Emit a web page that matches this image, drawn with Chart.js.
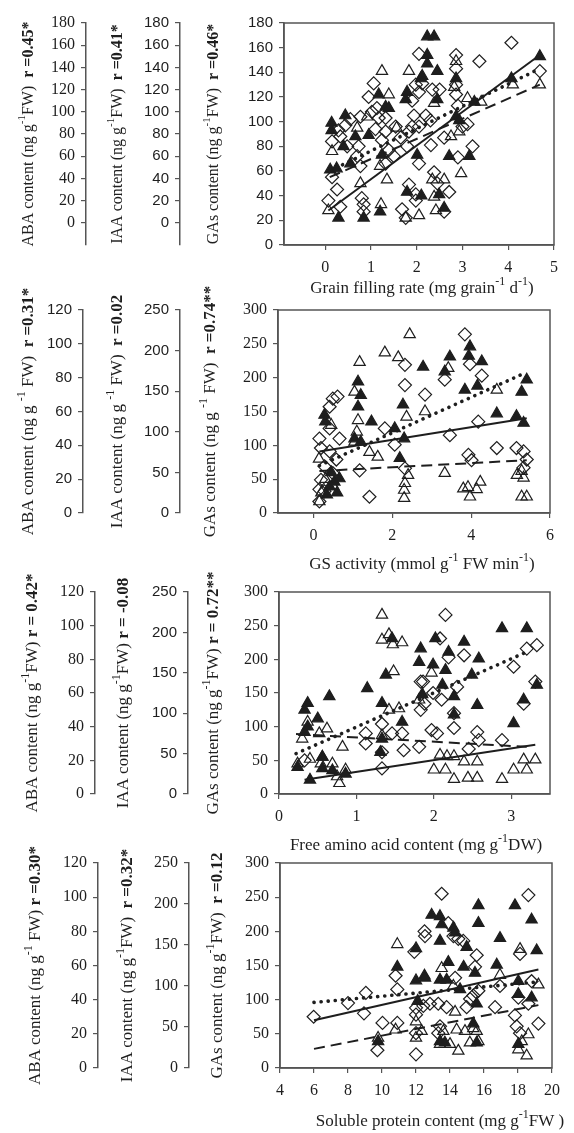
<!DOCTYPE html>
<html>
<head>
<meta charset="utf-8">
<script src="https://cdn.jsdelivr.net/npm/chart.js@4.4.0/dist/chart.umd.min.js"></script>
<style>
  html, body { margin: 0; padding: 0; background: #fff; }
  #fig { position: relative; width: 574px; height: 1133px; overflow: hidden; }
  #fig > div { position: absolute; left: 0; width: 574px; }
</style>
</head>
<body>
<div id="fig">
  <div style="top:0px;height:300px"><canvas id="c1"></canvas></div>
  <div style="top:270px;height:310px"><canvas id="c2"></canvas></div>
  <div style="top:560px;height:300px"><canvas id="c3"></canvas></div>
  <div style="top:830px;height:303px"><canvas id="c4"></canvas></div>
</div>
<script>
// Panel 1 - grain filling rate (all y values read in GAs axis units)
const grainFilled = [[0.29,22],[0.84,22],[1.2,27],[0.14,99],[0.14,93],[0.44,105],[0.4,80],[0.66,88],[0.95,89],[0.11,61],[0.25,62],[0.55,66],[1.17,122],[1.32,112],[1.39,111],[1.24,73],[1.79,124],[1.76,118],[2.09,135],[2.01,73],[1.79,43],[2.1,40],[2.23,169],[2.38,169],[2.23,154],[2.23,147],[2.45,141],[2.12,137],[2.45,118],[2.86,135],[2.86,104],[2.93,101],[2.71,72],[3.15,72],[2.6,30],[2.49,41],[3.26,116],[4.07,135],[4.69,153]];
const grainOpen = [[1.24,141],[1.83,141],[1.39,122],[0.15,76],[0.7,95],[0.07,28],[1.35,53],[1.2,64],[0.77,50],[1.22,33],[1.76,22],[2.05,24],[0.92,104],[1.56,95],[2.38,115],[3.11,119],[3.41,116],[2.75,88],[2.97,58],[2.34,53],[2.6,53],[2.38,39],[2.42,28],[2.86,149],[2.82,128],[4.69,130],[4.1,130],[2.93,92]];
const grainDiamond = [[0.07,36],[0.15,55],[0.26,45],[0.33,31],[0.15,84],[0.29,93],[0.44,97],[0.55,102],[0.33,88],[0.48,80],[0.77,104],[0.73,80],[0.7,72],[0.77,64],[0.8,38],[0.84,33],[0.84,27],[1.06,131],[0.95,120],[1.02,108],[1.13,111],[1.17,103],[1.1,94],[1.32,92],[1.24,85],[1.39,77],[1.5,72],[1.32,66],[1.32,103],[1.54,96],[1.65,87],[1.79,80],[1.83,92],[1.94,105],[1.9,96],[1.83,49],[1.98,41],[1.98,36],[1.68,29],[1.76,22],[2.05,155],[1.98,130],[1.9,117],[2.05,124],[2.12,131],[2.34,126],[2.5,126],[2.2,105],[2.3,101],[2.05,96],[2.31,81],[2.05,66],[2.38,59],[2.45,50],[2.71,43],[2.6,27],[2.86,154],[2.86,143],[2.86,130],[2.86,122],[2.9,113],[3.0,96],[3.11,98],[2.6,87],[3.22,80],[2.9,71],[3.37,149],[4.07,164],[4.69,141]];
const grainSolid = [[0.07,28],[4.69,154]];
const grainDashed = [[0.1,55],[4.69,130]];
const grainDotted = [[0.1,60],[4.69,143]];

// Panel 2 - GS activity
const gsFilled = [[1.13,194],[1.2,174],[1.13,157],[1.47,135],[1.04,110],[1.2,105],[2.27,160],[2.06,125],[2.3,110],[2.19,81],[2.78,216],[0.28,145],[0.3,135],[0.41,39],[0.53,46],[0.34,27],[0.66,51],[0.45,60],[0.6,30],[3.97,246],[3.94,232],[4.27,224],[3.46,231],[3.33,209],[3.84,182],[4.16,188],[5.41,197],[5.28,179],[4.65,147],[5.15,143],[5.33,133]];
const gsOpen = [[2.44,264],[1.17,223],[1.81,237],[2.15,230],[1.04,179],[1.13,137],[1.1,120],[1.04,105],[1.42,90],[1.63,83],[2.36,142],[2.4,56],[2.32,44],[2.3,34],[2.3,22],[0.15,17],[0.45,130],[0.14,80],[0.3,50],[0.5,40],[0.2,30],[3.42,214],[2.83,150],[4.65,182],[3.33,59],[3.8,36],[3.92,38],[3.97,24],[4.14,35],[4.23,46],[5.16,56],[5.28,62],[5.33,52],[5.28,24],[5.41,24]];
const gsDiamond = [[0.49,169],[0.61,172],[0.41,157],[0.15,110],[0.41,125],[0.66,110],[0.19,96],[0.41,91],[0.58,79],[0.28,69],[0.49,59],[0.19,49],[0.15,35],[0.28,32],[0.15,17],[1.17,63],[1.42,24],[2.32,219],[2.32,189],[1.81,125],[2.06,101],[2.32,66],[3.84,264],[3.97,220],[4.27,203],[3.33,197],[2.83,175],[4.18,135],[3.46,115],[3.93,86],[4.01,78],[4.65,96],[5.15,96],[5.33,91],[5.41,79],[5.33,67]];
const gsSolid = [[0.15,91],[5.41,140]];
const gsDashed = [[0.15,62],[5.41,78]];
const gsDotted = [[0.15,70],[5.33,206]];

// Panel 3 - free amino acid content
const aminoFilled = [[0.37,135],[0.33,125],[0.5,112],[0.65,145],[0.33,92],[0.37,100],[0.56,55],[0.24,40],[0.56,38],[0.69,35],[0.86,30],[0.4,21],[1.14,157],[1.38,177],[1.46,231],[1.33,135],[1.59,107],[1.33,82],[1.31,62],[1.83,216],[1.81,196],[2.02,231],[2.19,211],[2.39,226],[2.58,201],[2.88,246],[3.2,246],[1.99,192],[2.15,184],[2.49,177],[2.11,162],[2.26,145],[2.56,132],[1.85,148],[2.26,118],[3.03,105],[3.16,140],[3.33,162]];
const aminoOpen = [[1.33,266],[1.33,229],[1.42,237],[1.47,222],[1.59,225],[1.48,182],[1.42,125],[1.55,127],[1.81,140],[0.37,107],[0.3,82],[0.52,90],[0.62,97],[0.82,70],[0.24,45],[0.4,52],[0.54,45],[0.69,45],[0.86,36],[0.75,26],[0.78,16],[0.56,55],[1.33,87],[1.97,180],[2.08,58],[2.17,56],[2.26,56],[2.0,36],[2.15,36],[2.26,22],[2.39,48],[2.56,48],[2.44,24],[2.56,24],[2.88,22],[3.03,36],[3.16,51],[3.2,36],[3.31,51]];
const aminoDiamond = [[0.33,50],[1.12,90],[1.12,75],[1.33,104],[1.33,62],[1.33,38],[1.46,90],[1.59,90],[1.61,65],[1.81,70],[1.83,167],[1.83,125],[2.15,266],[2.08,231],[2.19,203],[2.39,206],[3.03,189],[3.2,216],[3.33,221],[3.31,167],[3.16,134],[2.3,159],[1.86,167],[1.99,150],[2.1,140],[1.88,134],[2.26,120],[2.26,98],[1.97,95],[2.04,90],[2.56,92],[2.58,80],[2.88,80],[2.45,67]];
const aminoSolid = [[0.33,21],[3.31,73]];
const aminoDashed = [[0.22,89],[3.2,70]];
const aminoDotted = [[0.22,60],[3.2,211]];

// Panel 4 - soluble protein content
const proteinFilled = [[10.9,148],[12,175],[12,128],[12.1,98],[9.77,39],[12.5,135],[12.92,224],[13.41,222],[13.51,210],[14.2,205],[14.3,198],[14.98,177],[13.41,186],[13.9,155],[13.41,129],[13.8,129],[14.8,148],[15.47,139],[14.59,115],[12.53,132],[15.67,238],[15.67,212],[15.57,94],[16.94,190],[16.75,151],[17.82,238],[18.8,217],[19.1,172],[18.02,127],[18.02,108],[18.8,103],[13.41,39],[13.7,37],[15.57,37],[18.02,35],[15.37,65]];
const proteinOpen = [[10.9,181],[10.8,56],[9.77,44],[12,68],[12,44],[18.12,174],[16.94,136],[13.51,146],[14.2,120],[19.2,122],[14.3,82],[12.33,54],[13.61,54],[14.39,56],[14.88,54],[15.57,54],[15.67,39],[13.41,35],[14.0,35],[14.49,25],[15.17,37],[18.02,27],[18.22,39],[18.61,49],[18.51,18],[15.37,58]];
const proteinDiamond = [[5.98,75],[8.0,95],[8.94,80],[9.05,110],[9.73,26],[10.03,66],[10.9,115],[10.9,66],[10.8,135],[11.9,170],[12,88],[12,51],[12,20],[12.5,200],[12,78],[13.51,255],[18.61,253],[13.9,212],[12.53,193],[14.2,193],[14.49,189],[14.78,186],[15.57,165],[15.47,148],[18.12,167],[14.3,132],[15.67,113],[15.37,106],[16.94,120],[18.8,127],[18.02,103],[12.43,91],[12.82,94],[13.31,94],[13.8,89],[14.98,89],[16.65,89],[17.82,77],[15.18,101],[13.41,61],[13.31,51],[17.92,61],[19.2,65],[18.61,94],[18.12,51]];
const proteinSolid = [[6,70],[19.2,144]];
const proteinDashed = [[6,28],[19.2,92]];
const proteinDotted = [[6,96],[19.2,126]];

// Tick labels
const ticks180 = [0,20,40,60,80,100,120,140,160,180];
const ticks120 = [0,20,40,60,80,100,120];
const ticks250 = [0,50,100,150,200,250];
const ticks300 = [0,50,100,150,200,250,300];
const grainTicks = [0,1,2,3,4,5];
const gsTicks = [0,2,4,6];
const aminoTicks = [0,1,2,3];
const proteinTicks = [4,6,8,10,12,14,16,18,20];

const SERIF = '"Liberation Serif", "Times New Roman", serif';
const SANS = '"Liberation Sans", Arial, sans-serif';
const INK = '#1e1e1e';
const AXIS = '#555';

// "^..^" = superscript, "~" = rest in bold
function rich(str) {
  const segs = [];
  const re = /\^([^^]*)\^|~(.*)$|([^^~]+)/g;
  let m;
  while ((m = re.exec(str))) {
    if (m[1] !== undefined) segs.push([m[1], 's']);
    else if (m[2] !== undefined) segs.push([m[2], 'b']);
    else segs.push([m[3], 'n']);
  }
  return segs;
}

function drawRich(ctx, str, cx, cy, size, rotated) {
  const segs = rich(str);
  const fonts = { n: size + 'px ' + SERIF, b: 'bold ' + size + 'px ' + SERIF, s: Math.round(size * 0.68) + 'px ' + SERIF };
  ctx.save();
  ctx.translate(cx, cy);
  if (rotated) ctx.rotate(-Math.PI / 2);
  ctx.fillStyle = INK;
  ctx.textBaseline = 'middle';
  ctx.textAlign = 'left';
  const widths = segs.map(s => { ctx.font = fonts[s[1]]; return ctx.measureText(s[0]).width; });
  let x = -widths.reduce((a, b) => a + b, 0) / 2;
  segs.forEach((s, i) => {
    ctx.font = fonts[s[1]];
    ctx.fillText(s[0], x, s[1] === 's' ? -size * 0.42 : 0);
    x += widths[i];
  });
  ctx.restore();
}

const pts = arr => arr.map(([x, y]) => ({ x, y }));

function buildPanel(p) {
  const yAxis = (rng, tks, font, weight, w) => ({
    type: 'linear', position: 'left', min: rng[0], max: rng[1], weight,
    afterBuildTicks: s => { s.ticks = tks.map(v => ({ value: v })); },
    afterFit: s => { s.width = w; },
    grid: { drawOnChartArea: false, tickLength: 5, color: AXIS, lineWidth: 1.2 },
    border: { color: AXIS, width: 1.5 },
    ticks: { font: { family: font, size: font === SERIF ? 16 : 15 }, color: INK, padding: 6 }
  });

  const decor = {
    id: 'decor',
    beforeDatasetsDraw(chart) {
      const { ctx, chartArea: a } = chart;
      ctx.save();
      ctx.strokeStyle = AXIS;
      ctx.lineWidth = 1.5;
      ctx.strokeRect(a.left, a.top, a.right - a.left, a.bottom - a.top);
      ctx.restore();
    },
    afterDraw(chart) {
      const { ctx, chartArea: a } = chart;
      const mid = (a.top + a.bottom) / 2;
      p.titles.forEach((t, i) => drawRich(ctx, t, p.titleX[i], mid, p.titleSize, true));
      drawRich(ctx, p.xTitle, p.xTitlePos[0], p.xTitlePos[1] - p.top, 17, false);
    }
  };

  const marker = (data, style, fill) => ({
    data: pts(data), pointStyle: style, pointRadius: 6.5,
    borderColor: INK, backgroundColor: fill, pointBorderWidth: 1.2, showLine: false, yAxisID: 'yG', clip: false
  });
  const trend = (data, dash, width, cap) => ({
    data: pts(data), showLine: true, pointRadius: 0, borderColor: INK, borderWidth: width,
    borderDash: dash, borderCapStyle: cap, yAxisID: 'yG', clip: false
  });

  new Chart(document.getElementById(p.id), {
    type: 'scatter',
    data: {
      datasets: [
        marker(p.open, 'triangle', 'rgba(255,255,255,0)'),
        marker(p.diamond, 'rectRot', 'rgba(255,255,255,0)'),
        marker(p.filled, 'triangle', INK),
        trend(p.solid, [], 2, 'butt'),
        trend(p.dashed, [11, 6], 2, 'butt'),
        trend(p.dotted, [0.1, 7], 3.6, 'round')
      ]
    },
    options: {
      responsive: true, maintainAspectRatio: false, animation: false, events: [],
      layout: { padding: { left: 0, top: p.areaTop - p.top, right: 574 - p.areaRight, bottom: p.padBottom } },
      plugins: { legend: { display: false }, tooltip: { enabled: false } },
      scales: {
        x: {
          type: 'linear', min: p.xRange[0], max: p.xRange[1],
          afterBuildTicks: s => { s.ticks = p.xTicks.map(v => ({ value: v })); },
          afterFit: s => { s.height = 30; },
          grid: { drawOnChartArea: false, tickLength: 5, color: AXIS, lineWidth: 1.2 },
          border: { color: AXIS, width: 1.5 },
          ticks: { font: { family: SERIF, size: 16 }, color: INK, padding: 8, maxRotation: 0 }
        },
        yG: yAxis(p.gas, p.gasTicks, p.fonts[2], 0, p.axisX[2] - p.axisX[1]),
        yI: yAxis(p.iaa, p.iaaTicks, p.fonts[1], 1, p.axisX[1] - p.axisX[0]),
        yA: yAxis(p.aba, p.abaTicks, p.fonts[0], 2, p.axisX[0])
      }
    },
    plugins: [decor]
  });
}

buildPanel({
  id: 'c1', top: 0, areaTop: 23, areaRight: 554, padBottom: 25,
  axisX: [86, 180, 284], fonts: [SERIF, SANS, SANS],
  aba: [-20, 180], iaa: [-20, 180], gas: [0, 180],
  abaTicks: ticks180, iaaTicks: ticks180, gasTicks: ticks180,
  xRange: [-0.9, 5], xTicks: grainTicks,
  titles: ['ABA content (ng g^-1^FW)  ~r =0.45*', 'IAA content (ng g^-1^FW)  ~r =0.41*', 'GAs content (ng g^-1^FW)  ~r =0.46*'],
  titleX: [29, 118, 214], titleSize: 16,
  xTitle: 'Grain filling rate (mg grain^-1^ d^-1^)', xTitlePos: [422, 289],
  filled: grainFilled, open: grainOpen, diamond: grainDiamond,
  solid: grainSolid, dashed: grainDashed, dotted: grainDotted
});

buildPanel({
  id: 'c2', top: 270, areaTop: 310, areaRight: 550, padBottom: 37,
  axisX: [83, 180, 278], fonts: [SANS, SANS, SERIF],
  aba: [0, 120], iaa: [0, 250], gas: [0, 300],
  abaTicks: ticks120, iaaTicks: ticks250, gasTicks: ticks300,
  xRange: [-0.9, 6], xTicks: gsTicks,
  titles: ['ABA content (ng g ^-1^ FW)  ~r =0.31*', 'IAA content (ng g ^-1^ FW)  ~r =0.02', 'GAs content (ng g ^-1^ FW)  ~r =0.74**'],
  titleX: [29, 118, 211], titleSize: 17,
  xTitle: 'GS activity (mmol g^-1^ FW min^-1^)', xTitlePos: [422, 565],
  filled: gsFilled, open: gsOpen, diamond: gsDiamond,
  solid: gsSolid, dashed: gsDashed, dotted: gsDotted
});

buildPanel({
  id: 'c3', top: 560, areaTop: 592, areaRight: 550, padBottom: 36,
  axisX: [95, 188, 279], fonts: [SERIF, SANS, SERIF],
  aba: [0, 120], iaa: [0, 250], gas: [0, 300],
  abaTicks: ticks120, iaaTicks: ticks250, gasTicks: ticks300,
  xRange: [0, 3.5], xTicks: aminoTicks,
  titles: ['ABA content (ng g^-1^FW) ~r = 0.42*', 'IAA content (ng g^-1^FW) ~r = -0.08', 'GAs content (ng g^-1^FW) ~r = 0.72**'],
  titleX: [33, 124, 214], titleSize: 17,
  xTitle: 'Free amino acid content (mg g^-1^DW)', xTitlePos: [416, 846],
  filled: aminoFilled, open: aminoOpen, diamond: aminoDiamond,
  solid: aminoSolid, dashed: aminoDashed, dotted: aminoDotted
});

buildPanel({
  id: 'c4', top: 830, areaTop: 863, areaRight: 552, padBottom: 35,
  axisX: [98, 189, 280], fonts: [SERIF, SERIF, SERIF],
  aba: [0, 120], iaa: [0, 250], gas: [0, 300],
  abaTicks: ticks120, iaaTicks: ticks250, gasTicks: ticks300,
  xRange: [4, 20], xTicks: proteinTicks,
  titles: ['ABA content (ng g^-1^ FW) ~r =0.30*', 'IAA content (ng g^-1^FW)  ~r =0.32*', 'GAs content (ng g^-1^FW)  ~r =0.12'],
  titleX: [36, 128, 218], titleSize: 17,
  xTitle: 'Soluble protein content (mg g^-1^FW )', xTitlePos: [440, 1122],
  filled: proteinFilled, open: proteinOpen, diamond: proteinDiamond,
  solid: proteinSolid, dashed: proteinDashed, dotted: proteinDotted
});
</script>
</body>
</html>
